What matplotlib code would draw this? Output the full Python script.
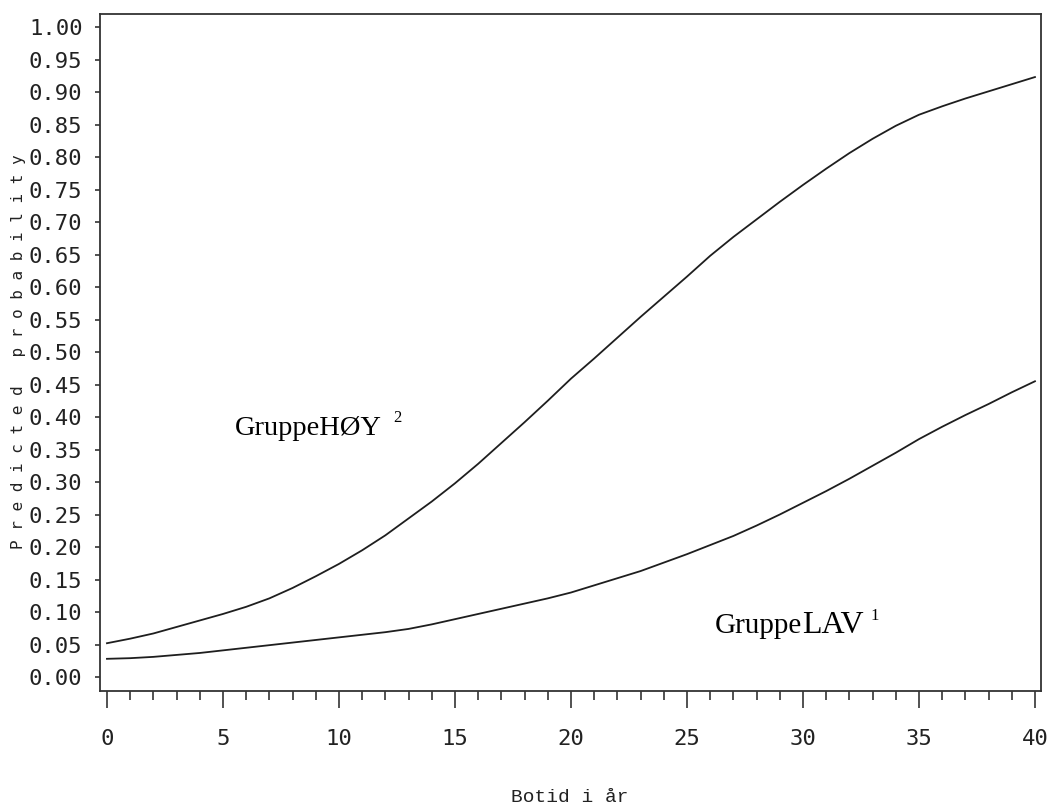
import matplotlib
matplotlib.use("Agg")
import matplotlib.pyplot as plt
from matplotlib.ticker import MultipleLocator, FormatStrFormatter

# Data
years = list(range(0, 41))
p_hoy = [0.052, 0.059, 0.067, 0.077, 0.087, 0.097, 0.108, 0.121, 0.137, 0.155,
         0.174, 0.195, 0.218, 0.244, 0.270, 0.298, 0.328, 0.360, 0.392, 0.425,
         0.459, 0.490, 0.522, 0.554, 0.585, 0.616, 0.648, 0.677, 0.704, 0.731,
         0.757, 0.782, 0.806, 0.828, 0.848, 0.865, 0.878, 0.890, 0.901, 0.912,
         0.923]
p_lav = [0.028, 0.029, 0.031, 0.034, 0.037, 0.041, 0.045, 0.049, 0.053, 0.057,
         0.061, 0.065, 0.069, 0.074, 0.081, 0.089, 0.097, 0.105, 0.113, 0.121,
         0.130, 0.141, 0.152, 0.163, 0.176, 0.189, 0.203, 0.217, 0.233, 0.250,
         0.268, 0.286, 0.305, 0.325, 0.345, 0.366, 0.385, 0.403, 0.420, 0.438,
         0.455]
x_major = [0, 5, 10, 15, 20, 25, 30, 35, 40]
y_major = [i * 0.05 for i in range(21)]

W, H = 1048, 808
fig = plt.figure(figsize=(W / 100, H / 100), dpi=100)
ax = fig.add_axes([100 / W, 1 - 691 / H, (1041 - 100) / W, (691 - 14) / H])

line_col = "#1e1e1e"
ax.plot(years, p_hoy, color=line_col, lw=1.3)
ax.plot(years, p_lav, color=line_col, lw=1.3)

ax.set_xlim(-0.3, 40.26)
ax.set_ylim(-0.0215, 1.02)

ax.set_xticks(x_major)
ax.xaxis.set_minor_locator(MultipleLocator(1))
ax.set_yticks(y_major)
ax.yaxis.set_major_formatter(FormatStrFormatter("%.2f"))

for s in ax.spines.values():
    s.set_linewidth(1.3)
    s.set_color("#333333")

ax.tick_params(axis="x", which="major", direction="out", length=12.2, width=1.2,
               color="#333333", pad=15, labelsize=16, labelcolor="#222222")
ax.tick_params(axis="x", which="minor", direction="out", length=6.5, width=1.2,
               color="#333333")
ax.tick_params(axis="y", which="major", direction="out", length=3.6, width=1.2,
               color="#333333", pad=9, labelsize=16, labelcolor="#222222")
for lab in ax.get_xticklabels() + ax.get_yticklabels():
    lab.set_family("DejaVu Sans Mono")

# Axis titles
fig.text(570 / W, 1 - 797 / H, "Botid i år", family="Liberation Mono",
         fontsize=14, ha="center", va="center", color="#222222")
fig.text(19 / W, 1 - 352 / H, "P r e d i c t e d   p r o b a b i l i t y",
         family="DejaVu Sans Mono", fontsize=11.5, rotation=90,
         ha="center", va="center", color="#222222")

# Group annotations
serif = "Liberation Serif"
ax.text(5.5, 0.372, "GruppeHØY", family=serif, fontsize=20.5, va="baseline", ha="left")
ax.text(12.33, 0.392, "2", family=serif, fontsize=12, va="baseline", ha="left")
ax.text(26.2, 0.068, "Gruppe", family=serif, fontsize=21, va="baseline", ha="left")
ax.text(29.96, 0.068, "LAV", family=serif, fontsize=23, va="baseline", ha="left")
ax.text(32.9, 0.087, "1", family=serif, fontsize=12, va="baseline", ha="left")

fig.savefig("out.png", dpi=100)
